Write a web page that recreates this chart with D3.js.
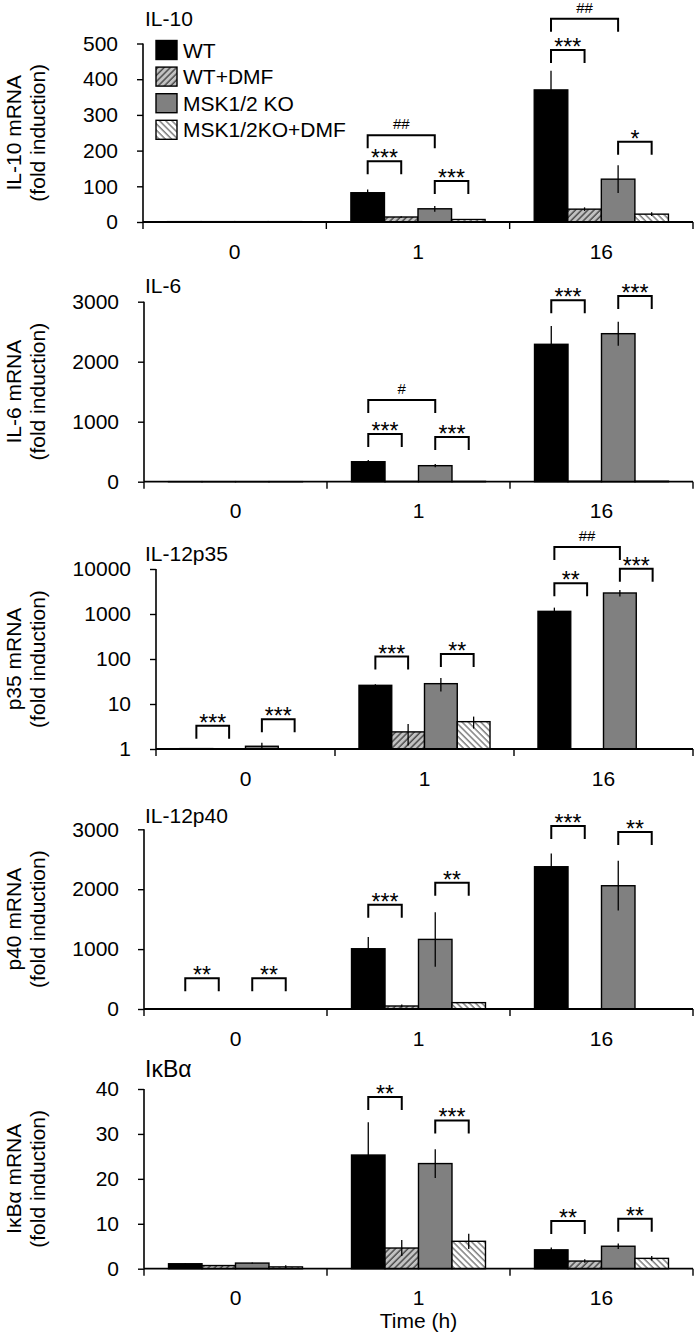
<!DOCTYPE html>
<html><head><meta charset="utf-8">
<script src="https://cdn.jsdelivr.net/npm/d3@7"></script>
<style>body{margin:0;background:#fff;} text{font-family:"Liberation Sans",Arial,sans-serif;fill:#000;}</style>
</head><body><svg id="c" width="697" height="1334"></svg>
<script>
const times = ["0","1","16"];
const seriesNames = ["WT","WT+DMF","MSK1/2 KO","MSK1/2KO+DMF"];

// rows = series (WT, WT+DMF, MSK1/2 KO, MSK1/2KO+DMF), cols = time (0, 1, 16 h)
const il10Mean = [[1,82,370],[1,14,36],[1,37,120],[1,7,22]];
const il10Err  = [[0.3,9,54],[0.3,2,5],[0.3,8,39],[0.3,1,5]];
const il10Ticks = [0,100,200,300,400,500];
const il10Sig = [[1,0,1,"***",170],[1,0,2,"##",243],[1,2,3,"***",115],[2,0,1,"***",482],[2,0,2,"##",569],[2,2,3,"*",225]];

const il6Mean = [[1,333,2290],[1,5,8],[1,267,2467],[1,5,8]];
const il6Err  = [[0,28,305],[0,2,2],[0,27,200],[0,2,2]];
const il6Ticks = [0,1000,2000,3000];
const il6Sig = [[1,0,1,"***",795],[1,0,2,"#",1362],[1,2,3,"***",745],[2,0,1,"***",3023],[2,2,3,"***",3095]];

const p35Mean = [[1.02,26,1145],[1,2.4,1],[1.15,28.3,2930],[1,4.05,1]];
const p35Err  = [[0,1.5,240],[0,1.2,0],[0.23,9.3,485],[0,1.2,0]];
const p35Ticks = [1,10,100,1000,10000];
const p35Sig = [[0,0,1,"***",3.3],[0,2,3,"***",4.6],[1,0,1,"***",113],[1,2,3,"**",129],[2,0,1,"**",4800],[2,2,3,"***",10160],[2,0,2,"##",30900]];

const p40Mean = [[5,1006,2375],[5,50,5],[5,1162,2058],[5,106,5]];
const p40Err  = [[0,195,222],[0,25,0],[0,455,415],[0,12,0]];
const p40Ticks = [0,1000,2000,3000];
const p40Sig = [[0,0,1,"**",512],[0,2,3,"**",512],[1,0,1,"***",1741],[1,2,3,"**",2109],[2,0,1,"***",3055],[2,2,3,"**",2955]];

const ikbMean = [[1.1,25.3,4.2],[0.7,4.6,1.7],[1.25,23.4,5.0],[0.4,6.1,2.3]];
const ikbErr  = [[0.1,7.3,0.5],[0.1,1.8,0.4],[0.15,3.2,0.6],[0.35,1.7,0.5]];
const ikbTicks = [0,10,20,30,40];
const ikbSig = [[1,0,1,"**",38.2],[1,2,3,"***",33.0],[2,0,1,"**",10.6],[2,2,3,"**",11.1]];

const panels = [
  {title:"IL-10", ylab:"IL-10 mRNA", mean:il10Mean, err:il10Err, ticks:il10Ticks, sig:il10Sig, log:false, x0:143, yTop:43.5, y0:222, titleY:25.5, legend:true},
  {title:"IL-6", ylab:"IL-6 mRNA", mean:il6Mean, err:il6Err, ticks:il6Ticks, sig:il6Sig, log:false, x0:144, yTop:301.7, y0:481.7, titleY:292.5},
  {title:"IL-12p35", ylab:"p35 mRNA", mean:p35Mean, err:p35Err, ticks:p35Ticks, sig:p35Sig, log:true, x0:156, yTop:569, y0:749, titleY:560.5},
  {title:"IL-12p40", ylab:"p40 mRNA", mean:p40Mean, err:p40Err, ticks:p40Ticks, sig:p40Sig, log:false, x0:144, yTop:829.3, y0:1009, titleY:822.5},
  {title:"I\u03BAB\u03B1", ylab:"I\u03BAB\u03B1 mRNA", mean:ikbMean, err:ikbErr, ticks:ikbTicks, sig:ikbSig, log:false, x0:144, yTop:1089, y0:1268.7, titleY:1077, titleSize:23, xlabel:"Time (h)"}
];

const svg = d3.select("#c");
const defs = svg.append("defs");
function hatch(id, bg, fg, rot, sw){
  const p = defs.append("pattern").attr("id",id).attr("patternUnits","userSpaceOnUse")
    .attr("width",4.4).attr("height",4.4).attr("patternTransform",`rotate(${rot})`);
  p.append("rect").attr("width",4.4).attr("height",4.4).attr("fill",bg);
  p.append("line").attr("x1",1).attr("y1",0).attr("x2",1).attr("y2",4.4).attr("stroke",fg).attr("stroke-width",sw);
}
hatch("hA","#c2c2c2","#3a3a3a",45,1.3);
hatch("hB","#ffffff","#808080",-45,1.5);
const fills = ["#000000","url(#hA)","#808080","url(#hB)"];
const xEnd = 693;
const FS = 21;

panels.forEach(P => {
  const g = svg.append("g");
  const y = P.log
    ? d3.scaleLog().domain([P.ticks[0], P.ticks[P.ticks.length-1]]).range([P.y0, P.yTop])
    : d3.scaleLinear().domain([P.ticks[0], P.ticks[P.ticks.length-1]]).range([P.y0, P.yTop]);
  const yMin = P.ticks[0];
  const xb = d3.scaleBand().domain(times).range([P.x0, xEnd]).padding(0);
  const cw = xb.bandwidth();
  const xi = d3.scaleBand().domain(d3.range(4)).range([cw*0.134, cw*(1-0.134)]).padding(0);
  const cx = (t,s) => xb(times[t]) + xi(s) + xi.bandwidth()/2;

  // bars
  const data = [];
  P.mean.forEach((row,s) => row.forEach((v,t) => data.push({s,t,v,e:P.err[s][t]})));
  g.selectAll("rect.bar").data(data).join("rect").attr("class","bar")
    .attr("x", d => xb(times[d.t]) + xi(d.s))
    .attr("width", xi.bandwidth())
    .attr("y", d => y(Math.max(d.v, yMin)))
    .attr("height", d => P.y0 - y(Math.max(d.v, yMin)))
    .attr("fill", d => fills[d.s]).attr("stroke","#000").attr("stroke-width",1.4);
  // error bars
  g.selectAll("line.err").data(data.filter(d => d.e > 0)).join("line").attr("class","err")
    .attr("x1", d => cx(d.t,d.s)).attr("x2", d => cx(d.t,d.s))
    .attr("y1", d => y(d.v + d.e)).attr("y2", d => y(Math.max(d.v - d.e, yMin)))
    .attr("stroke","#000").attr("stroke-width",1.3);

  // y axis
  const yAxis = d3.axisLeft(y).tickValues(P.ticks).tickSize(6).tickPadding(19)
    .tickFormat(d3.format("d"));
  const ya = g.append("g").attr("transform",`translate(${P.x0},0)`).call(yAxis);
  ya.select(".domain").attr("d", `M-0,${P.yTop}V${P.y0}`).attr("stroke-width",1.6);
  ya.selectAll(".tick line").attr("stroke-width",1.4);
  ya.selectAll("text").attr("font-size",FS).style("font-family","'Liberation Sans',Arial,sans-serif");

  // x axis
  const xa = g.append("g").attr("transform",`translate(0,${P.y0})`);
  xa.append("line").attr("x1",P.x0).attr("x2",xEnd).attr("y1",0).attr("y2",0).attr("stroke","#000").attr("stroke-width",1.8);
  const bounds = times.map(t => xb(t)).concat([xEnd]);
  xa.selectAll("line.tk").data(bounds).join("line").attr("class","tk")
    .attr("x1",d=>d).attr("x2",d=>d).attr("y1",0).attr("y2",7).attr("stroke","#000").attr("stroke-width",1.4);
  xa.selectAll("text").data(times).join("text")
    .attr("x", t => xb(t) + cw/2).attr("y", 36.5).attr("text-anchor","middle").attr("font-size",FS).text(t => t);

  // title
  g.append("text").attr("x",145).attr("y",P.titleY).attr("font-size",P.titleSize || FS).text(P.title);
  // y label
  const ym = (P.yTop + P.y0)/2;
  g.append("text").attr("transform",`translate(21,${ym}) rotate(-90)`).attr("text-anchor","middle").attr("font-size",FS).text(P.ylab);
  g.append("text").attr("transform",`translate(45,${ym}) rotate(-90)`).attr("text-anchor","middle").attr("font-size",FS).text("(fold induction)");

  // significance brackets
  P.sig.forEach(([t,a,b,lab,v]) => {
    const xa1 = cx(t,a), xa2 = cx(t,b), yy = y(v);
    g.append("path").attr("d",`M${xa1},${yy+13}V${yy}H${xa2}V${yy+13}`)
      .attr("fill","none").attr("stroke","#000").attr("stroke-width",2);
    const isHash = lab.startsWith("#");
    g.append("text").attr("x",(xa1+xa2)/2).attr("y", isHash ? yy-6 : yy+5)
      .attr("text-anchor","middle").attr("font-size", isHash ? 15 : 23).text(lab);
  });

  if (P.xlabel) {
    g.append("text").attr("x", xb(times[1]) + cw/2).attr("y", 1327.5).attr("text-anchor","middle").attr("font-size",FS).text(P.xlabel);
  }

  if (P.legend) {
    const lg = g.append("g");
    seriesNames.forEach((n,i) => {
      const yy = 50 + i*26.6;
      lg.append("rect").attr("x",156).attr("y",yy-9.5).attr("width",21).attr("height",19)
        .attr("fill",fills[i]).attr("stroke","#000").attr("stroke-width",1.4);
      lg.append("text").attr("x",183).attr("y",yy+7.5).attr("font-size",FS).text(n);
    });
  }
});
</script></body></html>
